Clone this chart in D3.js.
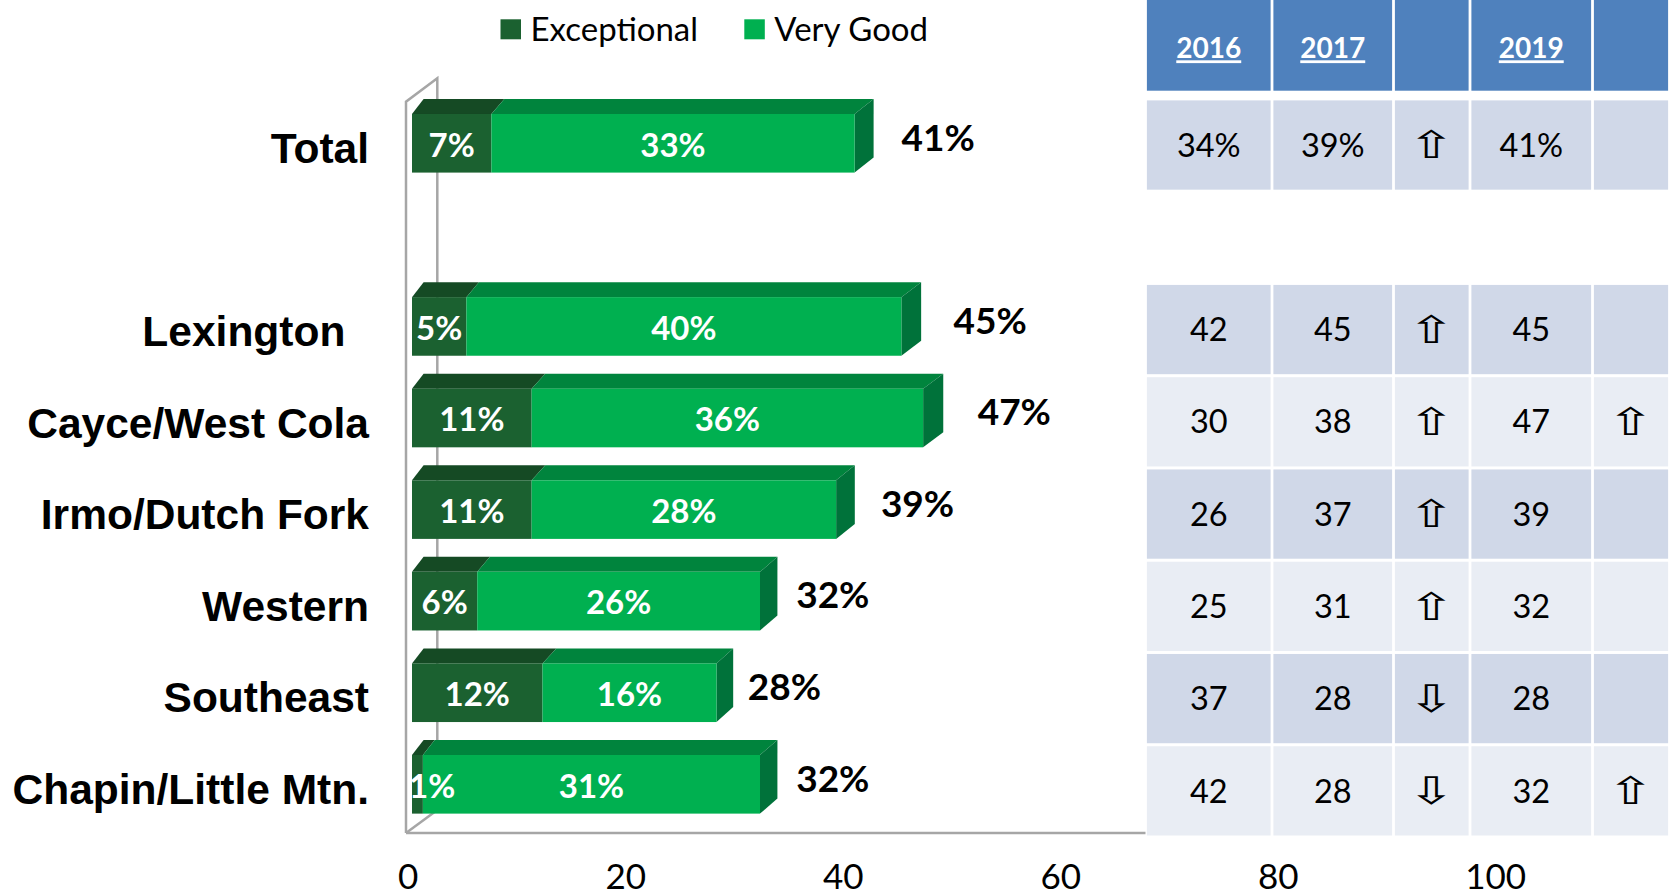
<!DOCTYPE html>
<html>
<head>
<meta charset="utf-8">
<script src="https://cdn.jsdelivr.net/npm/d3@7"></script>
<style>
  body { margin: 0; background: #fff; }
  svg { display: block; }
</style>
</head>
<body>
<svg id="chart" width="1672" height="896"></svg>
<script>
// ---- data ----
const categories = ["Total", "", "Lexington", "Cayce/West Cola", "Irmo/Dutch Fork", "Western", "Southeast", "Chapin/Little Mtn."]
const labelText = ["Total", "", "Lexington\u00a0\u00a0", "Cayce/West Cola", "Irmo/Dutch Fork", "Western", "Southeast", "Chapin/Little Mtn."]
const exceptional = [7.3, null, 5, 11, 11, 6, 12, 1]
const veryGood = [33.4, null, 40, 36, 28, 26, 16, 31]
const seriesNames = ["Exceptional", "Very Good"]
const axisTicks = [0, 20, 40, 60, 80, 100]

// comparison table
const headers = ["2016", "2017", "", "2019", ""]
const col2016 = ["34%", "", "42", "30", "26", "25", "37", "42"]
const col2017 = ["39%", "", "45", "38", "37", "31", "28", "28"]
const trend1 = ["\u21e7", "", "\u21e7", "\u21e7", "\u21e7", "\u21e7", "\u21e9", "\u21e9"]
const col2019 = ["41%", "", "45", "47", "39", "32", "28", "32"]
const trend2 = ["", "", "", "\u21e7", "", "", "", "\u21e7"]

// ---- styles ----
const calibri = "Lato, 'Open Sans', sans-serif"
const arial = "'Liberation Sans', Arial, sans-serif"
const colors = {
  excFront: "#1b6130", excTop: "#154a24",
  vgFront: "#00b050", vgTop: "#00843d", vgSide: "#00723a",
  wall: "#a6a6a6",
  head: "#4f81bd", band1: "#d0d8e8", band2: "#e9edf4"
}

const svg = d3.select("#chart")

// ---- scales ----
const x = d3.scaleLinear().domain([0, 100]).range([412, 1499.5])
const totalLabelX = d3.scaleLinear().domain([0, 100]).range([409, 1619])
const y = d3.scaleBand().domain(categories).range([97.5, 830.1]).paddingInner(0.36).paddingOuter(0.18)
const bw = y.bandwidth()

// perspective: back face shifts more to the right the further right it is
const depth = xv => 11.6 + (xv - 412) * 0.0167
const rise = -15

// ---- 3D walls ----
const wall = svg.append("g").attr("fill", "none").attr("stroke", colors.wall).attr("stroke-width", 2.5)
wall.append("path").attr("d", "M406,833 L406,101.7 L437.3,78.3 L437.3,810")
wall.append("path").attr("d", "M406,833 L437.3,810")
wall.append("path").attr("d", "M406,833 L1146,833")

// ---- bars ----
const rows = categories.map((c, i) => ({ c, i, exc: exceptional[i], vg: veryGood[i] })).filter(d => d.exc != null)

const poly = pts => "M" + pts.map(p => p.join(",")).join("L") + "Z"

const bars = svg.append("g")
rows.forEach(d => {
  const xl = x(0), xm = x(d.exc), xr = x(d.exc + d.vg)
  const yt = y(d.c), yb = yt + bw
  const g = bars.append("g")
  g.append("path").attr("fill", colors.excTop)
    .attr("d", poly([[xl, yt], [xl + depth(xl), yt + rise], [xm + depth(xm), yt + rise], [xm, yt]]))
  g.append("path").attr("fill", colors.vgTop)
    .attr("d", poly([[xm, yt], [xm + depth(xm), yt + rise], [xr + depth(xr), yt + rise], [xr, yt]]))
  g.append("path").attr("fill", colors.vgSide)
    .attr("d", poly([[xr, yt], [xr + depth(xr), yt + rise], [xr + depth(xr), yb + rise], [xr, yb]]))
  g.append("rect").attr("x", xl).attr("y", yt).attr("width", xm - xl).attr("height", bw).attr("fill", colors.excFront)
  g.append("rect").attr("x", xm).attr("y", yt).attr("width", xr - xm).attr("height", bw).attr("fill", colors.vgFront)
})

// labels inside the bars
svg.append("defs").append("clipPath").attr("id", "plotclip")
  .append("rect").attr("x", x(0)).attr("y", 0).attr("width", 1200).attr("height", 896)

const inner = svg.append("g").attr("clip-path", "url(#plotclip)")
  .attr("font-family", calibri).attr("font-weight", 700).attr("font-size", 33).attr("fill", "#fff")
rows.forEach(d => {
  const cy = y(d.c) + bw / 2 + 1.5 + 0.358 * 33
  const segs = [[0, d.exc], [d.exc, d.exc + d.vg]]
  segs.forEach(([a, b]) => {
    const t = inner.append("text").attr("y", cy).attr("text-anchor", "middle").text(Math.round(b - a) + "%")
    const w = t.node().getComputedTextLength()
    const cx = Math.max((x(a) + x(b)) / 2, x(0) + w / 2 - 3)
    t.attr("x", cx)
  })
})

// totals to the right of each bar
svg.append("g").attr("font-family", calibri).attr("font-weight", 700).attr("font-size", 37).attr("fill", "#000")
  .selectAll("text").data(rows).join("text")
  .attr("x", d => totalLabelX(d.exc + d.vg))
  .attr("y", d => y(d.c) + bw / 2 - 6 + 0.358 * 37)
  .text(d => Math.round(d.exc + d.vg) + "%")

// category labels
svg.append("g").attr("font-family", arial).attr("font-weight", 700).attr("font-size", 42.5).attr("fill", "#000")
  .selectAll("text").data(rows).join("text")
  .attr("x", 369).attr("text-anchor", "end")
  .attr("y", d => y(d.c) + bw / 2 + 4.5 + 0.358 * 42.5)
  .text(d => labelText[d.i])

// x axis labels
const axis = svg.append("g").attr("transform", "translate(-4.3,864)")
  .call(d3.axisBottom(x).tickValues(axisTicks).tickSize(0).tickPadding(0).tickFormat(d3.format("d")))
axis.select(".domain").remove()
axis.selectAll("text").attr("font-family", calibri).attr("font-size", 35).attr("fill", "#000")

// legend
const legend = svg.append("g").attr("font-family", calibri).attr("font-size", 33)
const legendX = [500.5, 744.3]
seriesNames.forEach((s, i) => {
  legend.append("rect").attr("x", legendX[i]).attr("y", 19.3).attr("width", 20.5).attr("height", 20)
    .attr("fill", i === 0 ? colors.excFront : colors.vgFront)
  legend.append("text").attr("x", legendX[i] + 30).attr("y", 40.5).attr("fill", "#000").text(s)
})

// ---- table ----
const colEdges = [1145.5, 1272, 1393.5, 1470, 1592.5, 1669.5]
const ty = d3.scaleBand().domain(categories).range([98.9, 837])
const columns = [col2016, col2017, trend1, col2019, trend2]
const isArrow = [false, false, true, false, true]
const gap = 1.4

const table = svg.append("g")
table.append("rect").attr("x", colEdges[0]).attr("y", 0).attr("width", 1672 - colEdges[0]).attr("height", 840).attr("fill", "#fff")

headers.forEach((h, j) => {
  const x0 = colEdges[j] + gap, x1 = colEdges[j + 1] - gap
  table.append("rect").attr("x", x0).attr("y", 0).attr("width", x1 - x0).attr("height", 90.7).attr("fill", colors.head)
  if (h) {
    table.append("text").attr("x", (x0 + x1) / 2).attr("y", 48.3 + 0.358 * 28)
      .attr("text-anchor", "middle").attr("font-family", calibri).attr("font-weight", 700)
      .attr("font-size", 28).attr("fill", "#fff").style("text-decoration", "underline").text(h)
  }
})

categories.forEach((c, i) => {
  if (!c) return
  const yt = ty(c) + 1.5, h = ty.bandwidth() - 3
  const cy = yt + h / 2
  columns.forEach((col, j) => {
    const x0 = colEdges[j] + gap, x1 = colEdges[j + 1] - gap
    table.append("rect").attr("x", x0).attr("y", yt).attr("width", x1 - x0).attr("height", h)
      .attr("fill", i % 2 === 0 ? colors.band1 : colors.band2)
    if (!col[i]) return
    if (isArrow[j]) {
      table.append("text").attr("transform", `translate(${(x0 + x1) / 2},${cy}) scale(1.5,1)`)
        .attr("dominant-baseline", "central")
        .attr("text-anchor", "middle").attr("font-family", "'DejaVu Sans'").attr("font-size", 38)
        .attr("fill", "#000").text(col[i])
    } else {
      table.append("text").attr("x", (x0 + x1) / 2).attr("y", cy + 0.358 * 32.5)
        .attr("text-anchor", "middle").attr("font-family", calibri).attr("font-size", 32.5)
        .attr("fill", "#000").text(col[i])
    }
  })
})
</script>
</body>
</html>
